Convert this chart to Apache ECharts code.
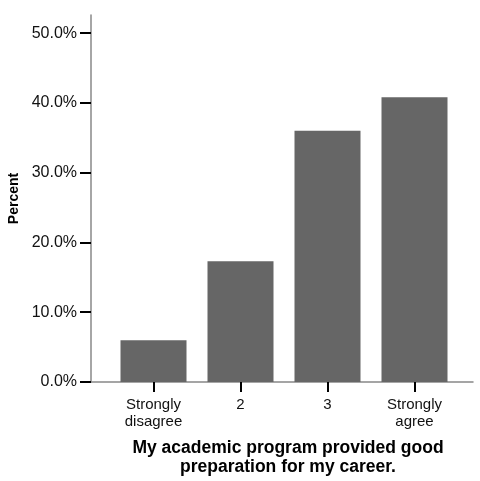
<!DOCTYPE html>
<html>
<head>
<meta charset="utf-8">
<script src="https://cdn.jsdelivr.net/npm/echarts@6/dist/echarts.min.js"></script>
<style>
  html, body { margin: 0; padding: 0; background: #fff; }
  #chart { width: 480px; height: 481px; }
</style>
</head>
<body>
<div id="chart"></div>
<script>
// survey answers, percent of respondents
const categories = ['Strongly\ndisagree', '2', '3', 'Strongly\nagree'];
const percents = [6.0, 17.3, 36.0, 40.8];
const yTicks = [0, 10, 20, 30, 40, 50];

const FONT = 'Liberation Sans, Arial, sans-serif';
const BAR = '#666666';

const chart = echarts.init(document.getElementById('chart'));

chart.setOption({
  animation: false,
  grid: [
    // outer frame: axis lines + y labels
    { left: 91, right: 7, top: 15, bottom: 99, outerBoundsMode: 'none' },
    // inner band area for the bars
    { left: 110, width: 348, top: 15, bottom: 99, outerBoundsMode: 'none' },
  ],
  xAxis: [
    {
      gridIndex: 0,
      type: 'value',
      min: 0,
      max: 1,
      axisLine: { show: true, lineStyle: { color: '#888', width: 1.5 } },
      axisTick: { show: false },
      axisLabel: { show: false },
      splitLine: { show: false },
    },
    {
      gridIndex: 1,
      type: 'category',
      data: categories,
      axisLine: { show: false },
      axisTick: { show: true, alignWithLabel: true, length: 10, lineStyle: { color: '#000', width: 2 } },
      axisLabel: { color: '#111', fontFamily: FONT, fontSize: 15, margin: 14, lineHeight: 17 },
      name: 'My academic program provided good\npreparation for my career.',
      nameLocation: 'middle',
      nameGap: 57,
      nameTextStyle: { color: '#000', fontFamily: FONT, fontSize: 17.5, fontWeight: 'bold', lineHeight: 19, padding: [0, 0, 0, 8] },
    },
  ],
  yAxis: [
    {
      gridIndex: 0,
      type: 'value',
      min: 0,
      max: 52.6,
      axisLine: { show: true, lineStyle: { color: '#888', width: 1.5 } },
      axisTick: { show: true, length: 11, customValues: yTicks, lineStyle: { color: '#000', width: 2 } },
      axisLabel: {
        color: '#111',
        fontFamily: FONT,
        fontSize: 16,
        margin: 14,
        customValues: yTicks,
        formatter: v => v.toFixed(1) + '%',
      },
      splitLine: { show: false },
      name: 'Percent',
      nameLocation: 'middle',
      nameGap: 69,
      nameTextStyle: { color: '#000', fontFamily: FONT, fontSize: 14, fontWeight: 'bold' },
    },
    {
      gridIndex: 1,
      type: 'value',
      min: 0,
      max: 52.6,
      show: false,
    },
  ],
  series: [
    {
      type: 'bar',
      xAxisIndex: 1,
      yAxisIndex: 1,
      data: percents,
      barWidth: 66,
      itemStyle: { color: BAR },
    },
  ],
});
</script>
</body>
</html>
